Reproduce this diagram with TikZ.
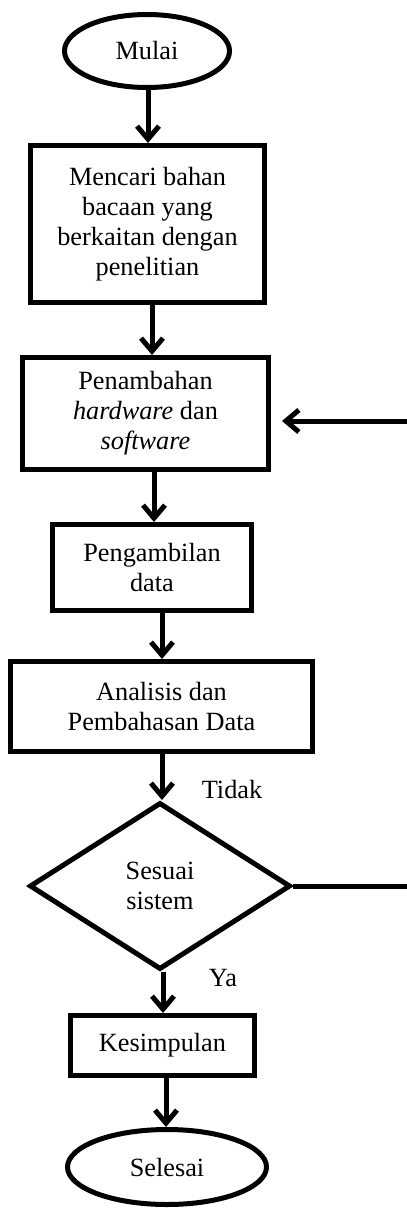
\documentclass[tikz,border=0pt]{standalone}
\usepackage{fontspec}
\setmainfont{Liberation Serif}
\usetikzlibrary{shapes.geometric,arrows.meta}
\begin{document}
\begin{tikzpicture}[x=1pt,y=-1pt,
  every node/.style={font=\fontsize{26.3}{30}\selectfont, align=center, inner sep=0pt},
  term/.style={draw, ellipse, line width=5pt},
  proc/.style={draw, rectangle, line width=5pt},
  decis/.style={draw, diamond, line width=5pt},
  flow/.style={line width=5pt, -{Straight Barb[length=13pt,width=22pt]}},
  lbl/.style={}]
\useasboundingbox (0,0) rectangle (407,1211);
\node[term, minimum width=165pt, minimum height=73pt] (start) at (147,51) {Mulai};
\node[proc, minimum width=234pt, minimum height=157pt] (p1) at (147.5,224) {Mencari bahan\\bacaan yang\\berkaitan dengan\\penelitian};
\node[proc, minimum width=246pt, minimum height=112pt] (p2) at (145.5,413.5) {Penambahan\\\textit{hardware} dan\\\textit{software}};
\node[proc, minimum width=199pt, minimum height=86pt] (p3) at (152,567.5) {Pengambilan\\data};
\node[proc, minimum width=302pt, minimum height=90pt] (p4) at (161.5,706.5) {Analisis dan\\Pembahasan Data};
\node[decis, minimum width=261pt, minimum height=167pt] (d) at (160,886) {Sesuai\\sistem};
\node[proc, minimum width=184pt, minimum height=60pt] (p5) at (162.5,1045.5) {Kesimpulan};
\node[term, minimum width=199pt, minimum height=75pt] (stop) at (167,1167) {Selesai};
\node[lbl] (tidak) at (232,789) {Tidak};
\node[lbl] (ya) at (223,978) {Ya};
\coordinate (c1) at (409,886);
\coordinate (c2) at (409,421);
\draw[flow] ([xshift=1pt]start.south) -- ([xshift=1pt]start.south |- p1.north);
\draw[flow] ([xshift=4.5pt]p1.south) -- ([xshift=4.5pt]p1.south |- p2.north);
\draw[flow] ([xshift=8.5pt]p2.south) -- ([xshift=8.5pt]p2.south |- p3.north);
\draw[flow] ([xshift=10pt]p3.south) -- ([xshift=10pt]p3.south |- p4.north);
\draw[flow] ([xshift=0.5pt]p4.south) -- ([xshift=0.5pt]p4.south |- d.north);
\draw[flow] ([xshift=3pt]d.south) -- ([xshift=3pt]d.south |- p5.north);
\draw[flow] ([xshift=3.5pt]p5.south) -- ([xshift=3.5pt]p5.south |- stop.north);
\draw[flow, shorten >=11pt] (d.east) -- (c1) -- (c2) -- (c2 -| p2.east);
\end{tikzpicture}
\end{document}
